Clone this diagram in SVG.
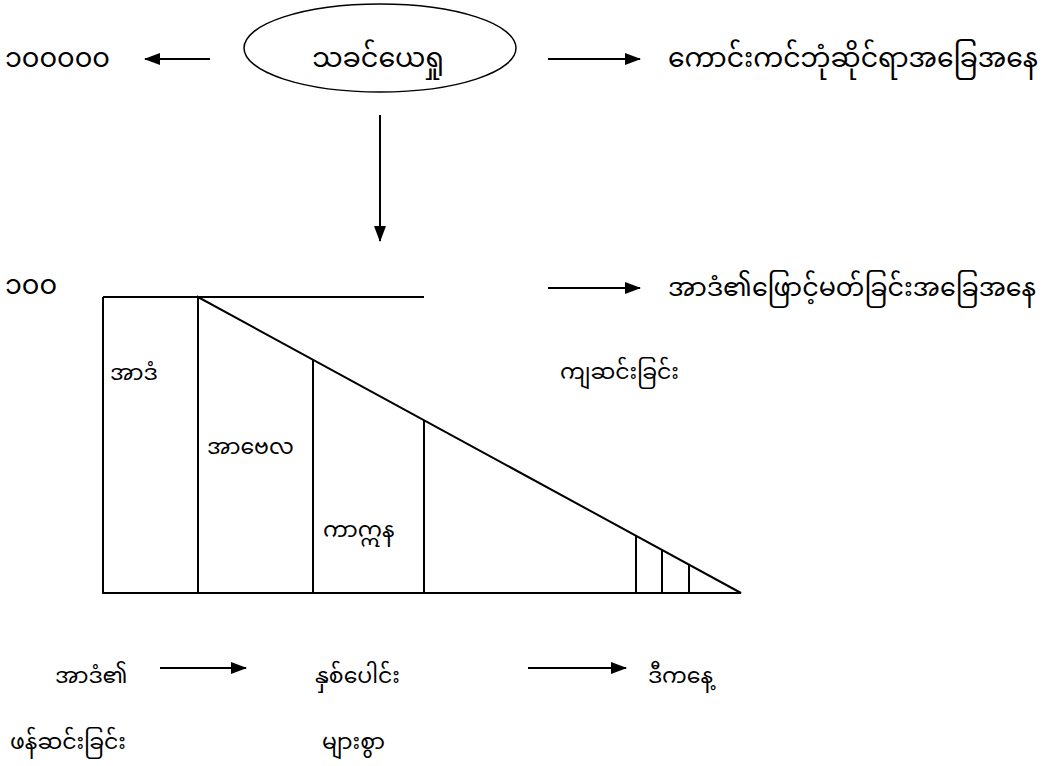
<svg xmlns="http://www.w3.org/2000/svg" width="1047" height="766" viewBox="0 0 1047 766">
<defs>
<marker id="ah" markerWidth="16" markerHeight="12" refX="15" refY="6" orient="auto" markerUnits="userSpaceOnUse">
<path d="M0,0 L16,6 L0,12 Z" fill="#000"/>
</marker>
<style>
.t{font-family:"Noto Sans Myanmar","Padauk","Myanmar Text","Noto Sans",sans-serif;font-size:22px;fill:#000}
.b{font-size:27px}
.m{font-size:25px}
.c{stroke:#000;stroke-width:2;fill:none}
.s{stroke:#000;stroke-width:2;fill:none}
</style>
</defs>
<rect width="1047" height="766" fill="#fff"/>
<g id="n-yesu"><ellipse cx="380" cy="48" rx="136" ry="44" fill="none" stroke="#000" stroke-width="1.5"/><text class="t b" x="378" y="67" text-anchor="middle">သခင်ယေရှု</text></g>
<g id="n-100000"><text class="t b" x="5" y="67">၁၀၀၀၀၀</text></g>
<g id="n-heaven"><text class="t b" x="668" y="67" textLength="370" lengthAdjust="spacingAndGlyphs">ကောင်းကင်ဘုံဆိုင်ရာအခြေအနေ</text></g>
<g id="n-100"><text class="t b" x="5" y="294">၁၀၀</text></g>
<g id="n-righteous"><text class="t m" x="668" y="296" textLength="368" lengthAdjust="spacingAndGlyphs">အာဒံ၏ဖြောင့်မတ်ခြင်းအခြေအနေ</text></g>
<g id="n-chart">
<path class="s" d="M103,297 H424 M103,297 V593 H741 L198,297 V593 M313,360 V593 M424,420 V593 M636,536 V593 M662,550 V593 M689,565 V593"/>
<text class="t" x="110" y="380">အာဒံ</text>
<text class="t" x="207" y="454">အာဗေလ</text>
<text class="t" x="323" y="537">ကာဣန</text>
<text class="t" x="560" y="379">ကျဆင်းခြင်း</text>
</g>
<g id="n-adam"><text class="t" x="55" y="683">အာဒံ၏</text></g>
<g id="n-years"><text class="t" x="315" y="683">နှစ်ပေါင်း</text></g>
<g id="n-today"><text class="t" x="648" y="683">ဒီကနေ့</text></g>
<g id="n-creation"><text class="t" x="10" y="749">ဖန်ဆင်းခြင်း</text></g>
<g id="n-many"><text class="t" x="322" y="749">များစွာ</text></g>
<g id="connectors">
<line class="c" x1="210" y1="59" x2="145" y2="59" marker-end="url(#ah)"/>
<line class="c" x1="548" y1="59" x2="640" y2="59" marker-end="url(#ah)"/>
<line class="c" x1="380" y1="115" x2="380" y2="241" marker-end="url(#ah)"/>
<line class="c" x1="548" y1="288" x2="640" y2="288" marker-end="url(#ah)"/>
<line class="c" x1="160" y1="668" x2="246" y2="668" marker-end="url(#ah)"/>
<line class="c" x1="528" y1="668" x2="626" y2="668" marker-end="url(#ah)"/>
</g>
</svg>
